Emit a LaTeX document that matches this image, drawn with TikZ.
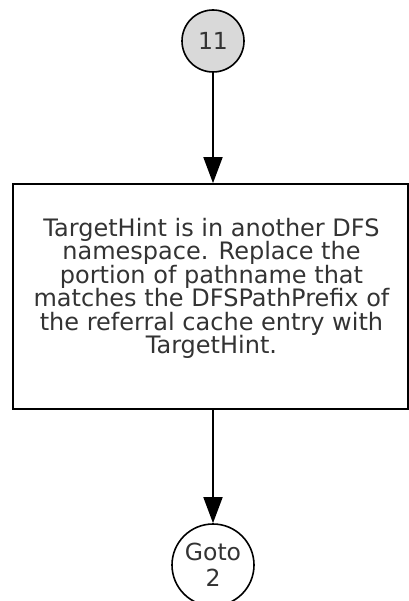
\documentclass[tikz,border=0pt]{standalone}
\usepackage{fontspec}
\setmainfont{DejaVu Sans}
\usetikzlibrary{arrows.meta}
\definecolor{connfill}{HTML}{D9D9D9}
\definecolor{inkgray}{HTML}{333333}
\begin{document}
\begin{tikzpicture}[x=1pt,y=-1pt,
  conn/.style={circle,draw=black,line width=1.6pt,inner sep=0pt,text=inkgray,font=\fontsize{23.5}{26}\selectfont,align=center},
  procbox/.style={draw=black,line width=1.6pt,minimum width=395pt,minimum height=225pt,inner sep=0pt},
  boxtext/.style={align=center,text=inkgray,font=\fontsize{24}{23.4}\selectfont,inner sep=0pt},
  arr/.style={line width=1.6pt,-{Triangle[length=26pt,width=19pt]}}]
\useasboundingbox (0,0) rectangle (408,601);
\node[conn,fill=connfill,minimum size=62pt] (c11) at (213,41) {11};
\node[procbox] (box) at (210.5,296.5) {};
\node[boxtext] (txt) at (211.5,288.4) {TargetHint is in another DFS\\namespace. Replace the\\portion of pathname that\\matches the DFSPathPrefix of\\the referral cache entry with\\TargetHint.};
\node[conn,minimum size=82pt] (g2) at (213,565) {Goto\\2};
\draw[arr] (c11) -- (c11|-box.north);
\draw[arr] (box.south-|g2) -- (g2);
\end{tikzpicture}
\end{document}
